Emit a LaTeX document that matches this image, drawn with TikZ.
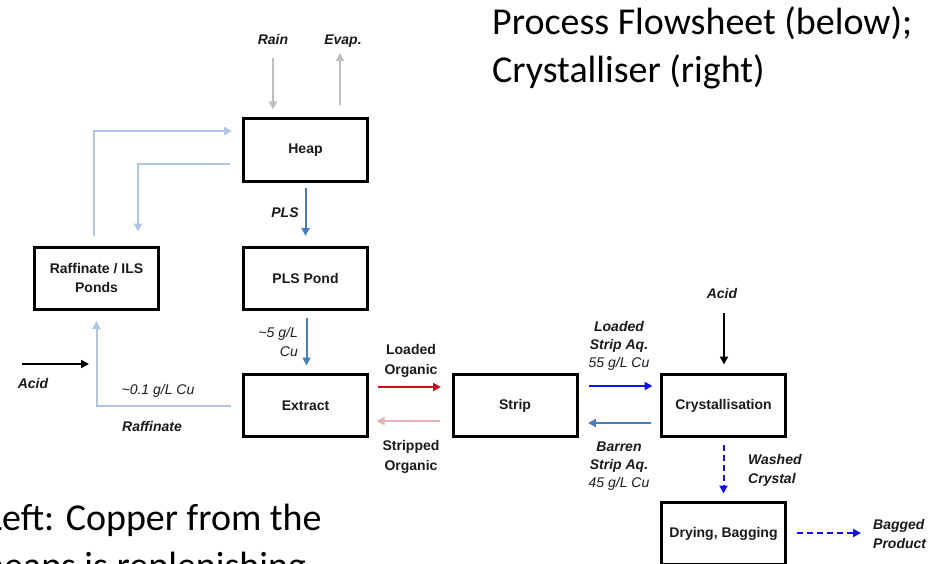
\documentclass[tikz,border=0pt]{standalone}
\usepackage{fontspec}
\setmainfont{Liberation Sans}
\newfontfamily\titlefont{Carlito}
\usetikzlibrary{arrows.meta}
\definecolor{cgray}{HTML}{BFBFBF}
\definecolor{clblue}{HTML}{AFC5E3}
\definecolor{csteel}{HTML}{4A7EBB}
\definecolor{cred}{HTML}{C0141C}
\definecolor{cpink}{HTML}{E6B3B6}
\definecolor{cblue}{HTML}{1010F0}
\definecolor{ctxt}{HTML}{1A1A1A}
\begin{document}
\begin{tikzpicture}[x=1pt,y=-1pt,
  box/.style={draw=black, line width=3pt, minimum width=124pt, minimum height=62pt, inner sep=0pt,
    font=\fontsize{14}{19}\selectfont\bfseries, text=ctxt, align=center},
  bi/.style={inner sep=0pt, text=ctxt, font=\fontsize{14}{19}\selectfont\bfseries\itshape},
  it/.style={inner sep=0pt, text=ctxt, font=\fontsize{14}{19}\selectfont\itshape},
  bo/.style={inner sep=0pt, text=ctxt, font=\fontsize{14}{20}\selectfont\bfseries},
  big/.style={inner sep=0pt, text=black, font=\titlefont\fontsize{38}{48}\selectfont},
  arr/.style={line width=2pt, -{Triangle[length=8pt,width=8pt]}},
  grayarr/.style={arr, draw=cgray},
  lbarr/.style={arr, draw=clblue},
  steelarr/.style={arr, draw=csteel},
  redarr/.style={arr, draw=cred},
  pinkarr/.style={arr, draw=cpink},
  bluearr/.style={arr, draw=cblue},
  blackarr/.style={arr, draw=black},
  dasharr/.style={arr, draw=cblue, dash pattern=on 6pt off 4pt}
]
\useasboundingbox (0,0) rectangle (933,564);
\clip (0,0) rectangle (933,564);

% boxes
\node[box] (heap) at (305.5,150) {Heap};
\node[box] (pond) at (305.5,278) {PLS Pond};
\node[box] (raff) at (96.5,278) {Raffinate / ILS\\Ponds};
\node[box] (extract) at (305.5,405.5) {Extract};
\node[box] (strip) at (515,405.5) {Strip};
\node[box] (cryst) at (723.5,405.5) {Crystallisation};
\node[box] (dry) at (723.5,533.5) {Drying, Bagging};

% free ends
\coordinate (rain0) at (273,58);
\coordinate (evap0) at (340,53);
\coordinate (acidL0) at (22,364);
\coordinate (acidL1) at (89,364);
\coordinate (acidR0) at (724,313);
\coordinate (bag) at (861,533);

% connectors
\draw[grayarr, shorten >=8pt] (rain0) -- (rain0 |- heap.north);
\draw[grayarr, shorten <=12pt] (evap0 |- heap.north) -- (evap0);
\draw[lbarr, shorten <=10pt, shorten >=10pt] ([xshift=-2.5pt]raff.north) |- ([yshift=19pt]heap.west);
\draw[lbarr, shorten <=12pt, shorten >=14pt] ([yshift=-14pt]heap.west) -| ([xshift=41.5pt]raff.north);
\draw[steelarr, shorten <=5.5pt, shorten >=9.5pt] (heap.south) -- (pond.north);
\draw[steelarr, shorten <=7.5pt, shorten >=7.5pt] ([xshift=1pt]pond.south) -- ([xshift=1pt]extract.north);
\draw[blackarr] (acidL0) -- (acidL1);
\draw[lbarr, shorten <=11.5pt, shorten >=10.5pt] (extract.west) -| (raff.south);
\draw[redarr, shorten <=8.5pt, shorten >=10.5pt] ([yshift=18.5pt]extract.east) -- ([yshift=18.5pt]strip.west);
\draw[pinkarr, shorten <=11.5pt, shorten >=7.5pt] ([yshift=-15.5pt]strip.west) -- ([yshift=-15.5pt]extract.east);
\draw[bluearr, shorten <=10.5pt, shorten >=7.5pt] ([yshift=19.5pt]strip.east) -- ([yshift=19.5pt]cryst.west);
\draw[steelarr, shorten <=9.5pt, shorten >=9.5pt] ([yshift=-17.5pt]cryst.west) -- ([yshift=-17.5pt]strip.east);
\draw[blackarr, shorten >=8.5pt] (acidR0) -- (acidR0 |- cryst.north);
\draw[dasharr, shorten <=6.5pt, shorten >=7.5pt] (cryst.south) -- (dry.north);
\draw[dasharr, shorten <=9.5pt] (dry.east |- bag) -- (bag);

% labels
\node[bi] (lrain) at (273,39) {Rain};
\node[bi] (levap) at (343,41) {Evap.};
\node[bi] (lpls) at (285,213) {PLS};
\node[it, align=right, anchor=east] (l5) at (298,342) {\textasciitilde5 g/L\\Cu};
\node[bi] (lacidL) at (33,383) {Acid};
\node[it] (l01) at (158,391) {\textasciitilde0.1 g/L Cu};
\node[bi] (lraffinate) at (152,426) {Raffinate};
\node[bo, align=center] (lloaded) at (411,361) {Loaded\\Organic};
\node[bo, align=center] (lstripped) at (411,457) {Stripped\\Organic};
\node[it, align=center, font=\fontsize{14}{18}\selectfont\itshape] (lla) at (619,346) {\textbf{Loaded}\\\textbf{Strip Aq.}\\55 g/L Cu};
\node[it, align=center, font=\fontsize{14}{18}\selectfont\itshape] (lba) at (619,466) {\textbf{Barren}\\\textbf{Strip Aq.}\\45 g/L Cu};
\node[bi] (lacidR) at (722,293) {Acid};
\node[bi, align=left, anchor=west] (lwash) at (748,470) {Washed\\Crystal};
\node[bi, align=left, anchor=west] (lbag) at (873,534) {Bagged\\Product};

% slide text
\node[big, anchor=base west] (t1) at (492,35) {Process Flowsheet (below);};
\node[big, anchor=base west] (t2) at (492,83) {Crystalliser (right)};
\node[big, anchor=base west] (b1) at (-14,530) {Left: Copper from the};
\node[big, anchor=base west] (b2) at (-16,578) {heaps is replenishing};
\end{tikzpicture}
\end{document}
